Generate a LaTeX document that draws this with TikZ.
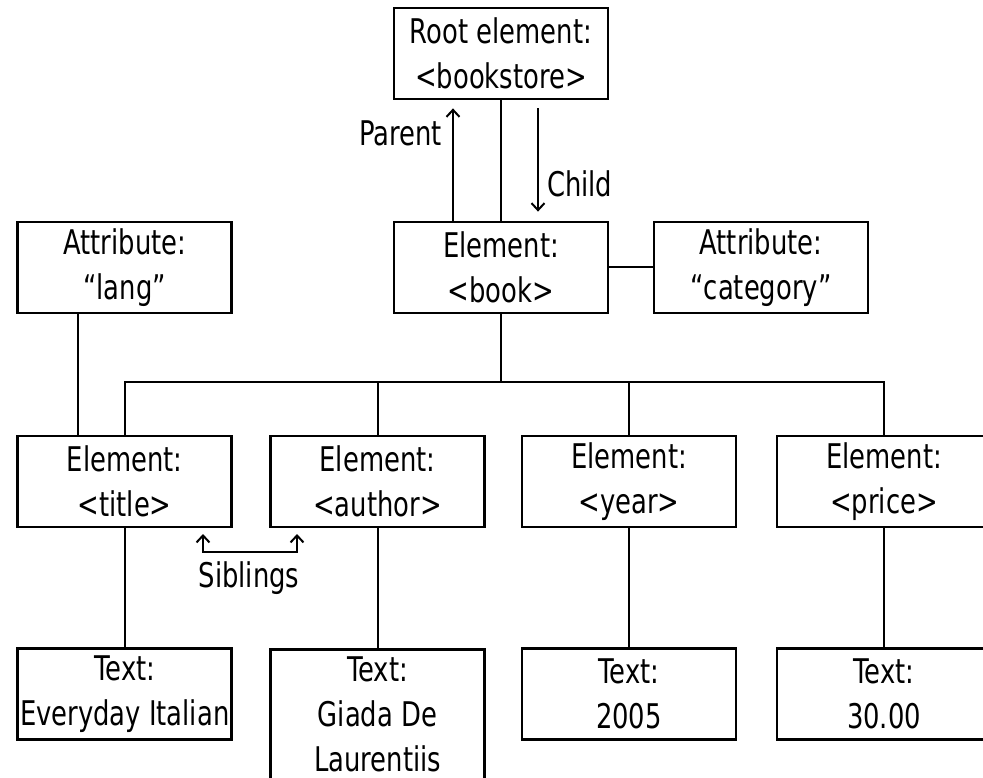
\documentclass[tikz,border=0pt]{standalone}
\usepackage{fontspec}
\setmainfont{DejaVu Sans}[FakeStretch=0.76]
\usetikzlibrary{arrows.meta}
\tikzstyle{box}=[draw,line width=2.8pt,minimum width=214pt,minimum height=91pt,inner sep=0pt,align=center,font=\fontsize{34}{45}\selectfont]
\tikzstyle{lbl}=[inner sep=0pt,font=\fontsize{34}{45}\selectfont]
\tikzstyle{arr}=[-{Straight Barb[length=7pt,width=13pt]}]

\begin{document}
\begin{tikzpicture}[x=1pt,y=-1pt,line width=2pt]
  \path[use as bounding box,fill=white] (0,0) rectangle (983,778);
  % boxes
  \node[box] (root) at (501,53.5) {Root element:\\<bookstore>};
  \node[box] (lang) at (124.7,267.5) {Attribute:\\“lang”};
  \node[box] (book) at (501,267.5) {Element:\\<book>};
  \node[box] (cat) at (761,267.5) {Attribute:\\“category”};
  \node[box] (title) at (124.7,481.5) {Element:\\<title>};
  \node[box] (author) at (377.5,481.5) {Element:\\<author>};
  \node[box] (year) at (629,481.5) {Element:\\<year>};
  \node[box] (price) at (884,481.5) {Element:\\<price>};
  \node[box] (ttitle) at (124.7,694) {Text:\\Everyday Italian};
  \node[box,minimum height=142pt,text depth=13pt,anchor=north] (tauthor) at (377.5,648) {Text:\\Giada De\\Laurentiis};
  \node[box] (tyear) at (629,694) {Text:\\2005};
  \node[box] (tprice) at (884,694) {Text:\\30.00};
  % labels
  \node[lbl,anchor=base east] (parent) at (443,146) {Parent};
  \node[lbl,anchor=base west] (child) at (546,197) {Child};
  \node[lbl,anchor=base] (sib) at (249,587) {Siblings};
  \coordinate (bus) at (0,382);
  \coordinate (sibl) at (203,534);
  \coordinate (sibr) at (297,534);
  % lines
  \draw (root) -- (book);
  \draw[arr] ([xshift=-48pt]book.north) -- ([xshift=-48pt,yshift=-8pt]root.south);
  \draw[arr] ([xshift=37pt,yshift=-8pt]root.south) -- ([xshift=37pt,yshift=9pt]book.north);
  \draw (book) -- (cat);
  \draw ([xshift=-47pt]lang.south) -- ([xshift=-47pt]title.north);
  \draw (book.south) -- (book.south |- bus);
  \draw (title.north) -- (title.north |- bus) -- (price.north |- bus) -- (price.north);
  \draw (author.north) -- (author.north |- bus);
  \draw (year.north) -- (year.north |- bus);
  \foreach \n in {title,author,year,price}
    \draw (\n.south) -- (t\n.north);
  \draw[{Straight Barb[length=7pt,width=13pt]}-{Straight Barb[length=7pt,width=13pt]}] (sibl) -- (sibl |- 0,552) -- (sibr |- 0,552) -- (sibr);
\end{tikzpicture}
\end{document}
